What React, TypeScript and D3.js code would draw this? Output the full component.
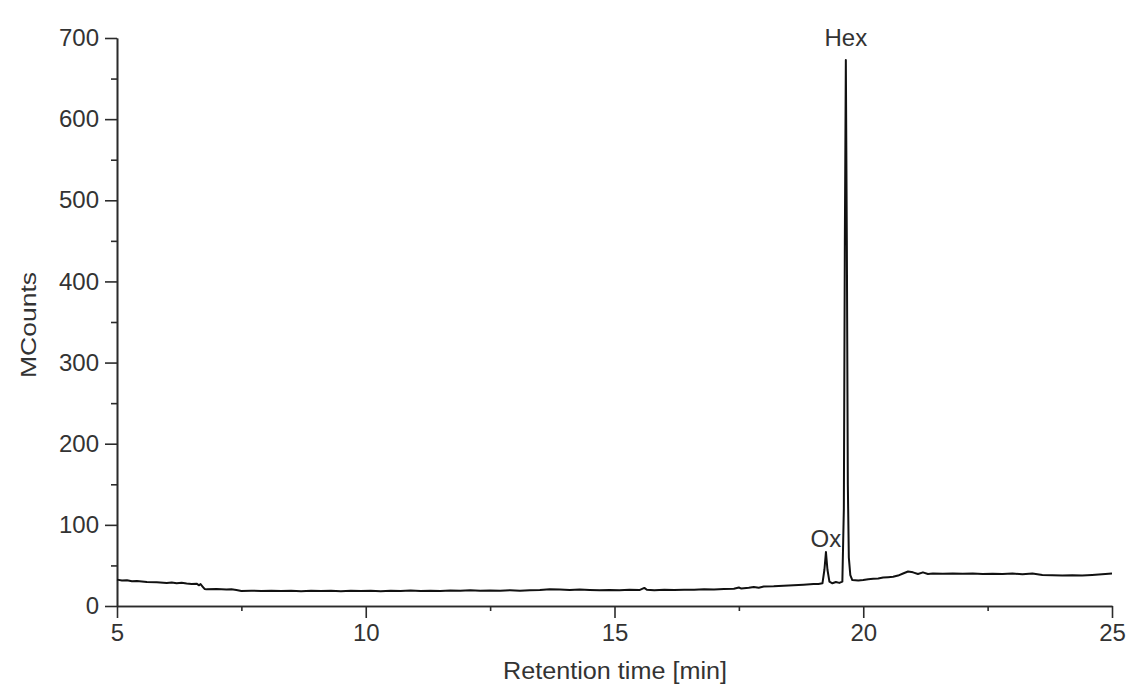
import { useEffect, useRef } from 'react';
import * as d3 from 'd3';

// chromatogram trace: [retention time (min), MCounts]
const trace: [number, number][] = [
  [5.0, 32.5], [5.1, 31.5], [5.2, 31.8], [5.3, 30.5], [5.4, 30.8], [5.6, 29.5], [5.8, 29.2],
  [6.0, 28.3], [6.1, 29.0], [6.2, 28.0], [6.3, 28.6], [6.4, 27.8], [6.5, 27.2], [6.6, 27.5],
  [6.65, 25.5], [6.68, 27.0], [6.72, 24.0], [6.76, 21.0], [6.8, 20.5], [7.0, 20.8], [7.2, 20.2],
  [7.3, 20.6], [7.4, 19.8], [7.5, 18.6], [7.7, 18.9], [7.9, 18.4], [8.1, 18.8], [8.3, 18.5],
  [8.5, 18.9], [8.7, 18.3], [8.9, 18.8], [9.1, 18.5], [9.3, 18.9], [9.5, 18.2], [9.7, 18.7],
  [9.9, 18.4], [10.1, 18.8], [10.3, 18.3], [10.5, 18.8], [10.7, 18.5], [10.9, 19.0], [11.1, 18.4],
  [11.3, 18.9], [11.5, 18.6], [11.7, 19.1], [11.9, 18.7], [12.1, 19.3], [12.3, 18.8], [12.5, 19.2],
  [12.7, 18.9], [12.9, 19.4], [13.1, 18.9], [13.3, 19.5], [13.5, 19.6], [13.7, 20.6], [13.9, 20.2],
  [14.1, 19.8], [14.3, 20.3], [14.5, 19.7], [14.7, 19.3], [14.9, 19.8], [15.1, 19.4], [15.3, 19.9],
  [15.5, 19.6], [15.6, 22.3], [15.65, 20.0], [15.8, 19.5], [16.0, 19.9], [16.2, 19.6], [16.4, 20.1],
  [16.6, 20.0], [16.8, 20.5], [17.0, 20.3], [17.2, 21.0], [17.4, 21.3], [17.5, 22.8], [17.55, 21.5],
  [17.7, 22.5], [17.8, 23.5], [17.9, 22.6], [18.0, 24.0], [18.2, 24.2], [18.4, 25.0], [18.6, 25.6],
  [18.8, 26.2], [19.0, 27.0], [19.1, 27.2], [19.18, 28.0], [19.22, 45], [19.25, 66.5], [19.28, 45],
  [19.32, 30], [19.38, 28], [19.45, 29.5], [19.52, 28.5], [19.58, 30], [19.61, 120], [19.63, 450],
  [19.65, 673], [19.67, 450], [19.69, 150], [19.71, 60], [19.74, 38], [19.78, 32], [19.9, 31.5],
  [20.0, 32.0], [20.1, 33.0], [20.2, 33.5], [20.3, 34.0], [20.4, 35.0], [20.5, 35.5], [20.6, 36.0],
  [20.7, 37.5], [20.8, 40.0], [20.9, 42.5], [21.0, 41.5], [21.1, 39.5], [21.2, 41.5], [21.3, 39.5],
  [21.4, 40.0], [21.6, 39.8], [21.8, 40.2], [22.0, 39.6], [22.2, 40.0], [22.4, 39.5], [22.6, 39.8],
  [22.8, 39.4], [23.0, 40.0], [23.2, 39.2], [23.4, 40.1], [23.6, 38.3], [23.8, 38.0], [24.0, 37.6],
  [24.2, 37.8], [24.4, 37.5], [24.6, 38.2], [24.8, 39.0], [25.0, 40.0],
];

const peakNames = ['Ox', 'Hex'];
const peakTimes = [19.25, 19.65];
const peakHeights = [66.5, 673];

const xMajor = [5, 10, 15, 20, 25];
const xMinor = [7.5, 12.5, 17.5, 22.5];
const yMajor = [0, 100, 200, 300, 400, 500, 600, 700];
const yMinor = [50, 150, 250, 350, 450, 550, 650];

const W = 1137;
const H = 684;
const margin = { left: 117, right: 25, top: 38, bottom: 78 };
const font = '"Liberation Sans", Arial, sans-serif';

const App = () => {
  const ref = useRef<SVGSVGElement>(null);

  useEffect(() => {
    document.body.style.margin = '0';
    const svg = d3.select(ref.current);
    svg.selectAll('*').remove();

    const x = d3.scaleLinear().domain([5, 25]).range([margin.left, W - margin.right]);
    const y = d3.scaleLinear().domain([0, 700]).range([H - margin.bottom, margin.top]);

    const axisColor = '#2b2b2b';
    const textColor = '#333';

    // x axis: major ticks with labels, then minor ticks
    const gx = svg.append('g').attr('transform', `translate(0,${y(0)})`);
    gx.call(d3.axisBottom(x).tickValues(xMajor).tickSize(12).tickPadding(6).tickSizeOuter(0));
    gx.append('g').call(d3.axisBottom(x).tickValues(xMinor).tickSize(5).tickFormat(() => '').tickSizeOuter(0));

    const gy = svg.append('g').attr('transform', `translate(${x(5)},0)`);
    gy.call(d3.axisLeft(y).tickValues(yMajor).tickSize(12).tickPadding(6).tickSizeOuter(0));
    gy.append('g').call(d3.axisLeft(y).tickValues(yMinor).tickSize(6).tickFormat(() => '').tickSizeOuter(0));

    svg.selectAll('.domain').attr('stroke', axisColor).attr('stroke-width', 1.6);
    svg.selectAll('.tick line').attr('stroke', axisColor).attr('stroke-width', 1.6);
    svg.selectAll('.tick text')
      .attr('fill', textColor)
      .style('font-family', font)
      .style('font-size', '24px');

    // axis titles (reference glyphs run a little wide, so stretch to its length)
    svg.append('text')
      .attr('x', 615)
      .attr('y', H - 5)
      .attr('text-anchor', 'middle')
      .attr('fill', textColor)
      .attr('textLength', 224)
      .attr('lengthAdjust', 'spacingAndGlyphs')
      .style('font-family', font)
      .style('font-size', '23px')
      .text('Retention time [min]');

    svg.append('text')
      .attr('transform', `translate(36,${y(350) + 3}) rotate(-90)`)
      .attr('text-anchor', 'middle')
      .attr('fill', textColor)
      .attr('textLength', 106)
      .attr('lengthAdjust', 'spacingAndGlyphs')
      .style('font-family', font)
      .style('font-size', '22px')
      .text('MCounts');

    // the trace
    svg.append('path')
      .datum(trace)
      .attr('d', d3.line<[number, number]>().x(d => x(d[0])).y(d => y(d[1])))
      .attr('fill', 'none')
      .attr('stroke', '#111')
      .attr('stroke-width', 2)
      .attr('stroke-linejoin', 'round');

    // peak labels
    const labelGap = [5, 14];
    peakNames.forEach((name, i) => {
      svg.append('text')
        .attr('x', x(peakTimes[i]))
        .attr('y', y(peakHeights[i]) - labelGap[i])
        .attr('text-anchor', 'middle')
        .attr('fill', textColor)
        .style('font-family', font)
        .style('font-size', '24px')
        .text(name);
    });
  }, []);

  return <svg ref={ref} width={W} height={H} style={{ display: 'block', background: '#fff' }} />;
};

export default App;
